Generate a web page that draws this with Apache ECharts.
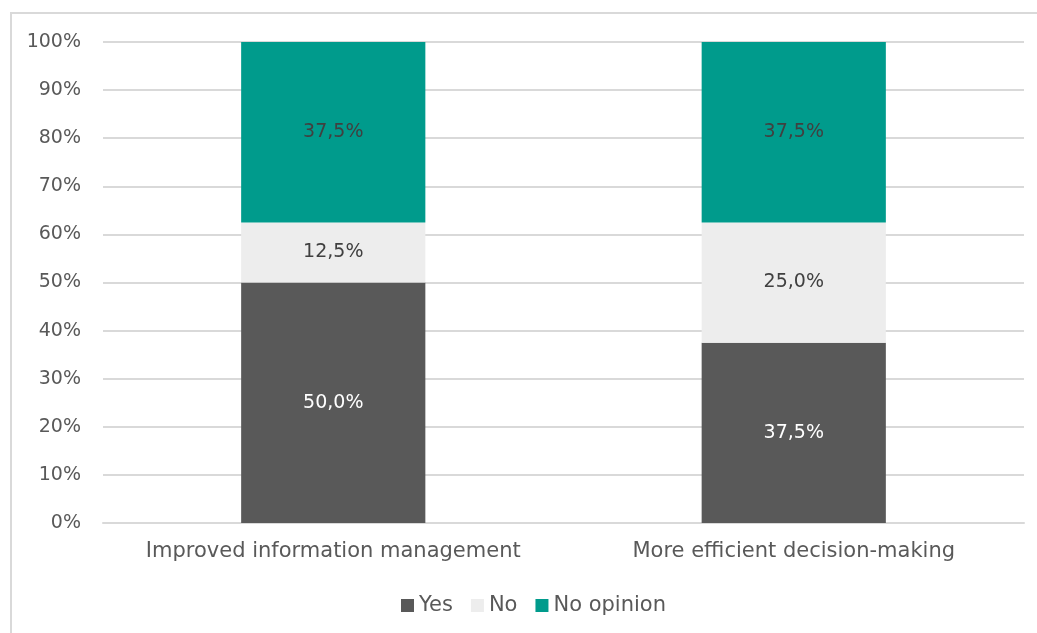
<!DOCTYPE html>
<html><head><meta charset="utf-8">
<script src="https://cdn.jsdelivr.net/npm/echarts@6/dist/echarts.min.js"></script>
<style>
html,body{margin:0;padding:0;background:#fff;overflow:hidden}
#frame{position:absolute;left:10px;top:12px;width:1040px;height:640px;border:2px solid #d9d9d9;box-sizing:border-box}
#c{position:absolute;left:0;top:0;width:1037px;height:633px}
</style></head>
<body><div id="frame"></div><div id="c"></div>
<script>
const categories = ["Improved information management", "More efficient decision-making"];
const seriesNames = ["Yes", "No", "No opinion"];
const yesValues = [50.0, 37.5];
const noValues = [12.5, 25.0];
const noOpinionValues = [37.5, 37.5];
const colors = ["#595959", "#ededed", "#009b8c"];
const labelColors = ["#ffffff", "#404040", "#404040"];
const FONT = "DejaVu Sans";
const chart = echarts.init(document.getElementById('c'));
const data = [yesValues, noValues, noOpinionValues];
chart.setOption({
  animation: false,
  textStyle: {fontFamily: FONT},
  grid: {left: 103, right: 13, top: 42, bottom: 110, containLabel: false},
  legend: {
    top: 590, left: 396, itemWidth: 13, itemHeight: 13, itemGap: 18,
    textStyle: {fontFamily: FONT, fontSize: 21, color: '#595959'},
    data: seriesNames.map((n, i) => ({name: n, icon: 'rect'}))
  },
  xAxis: {
    type: 'category', data: categories,
    axisLine: {lineStyle: {color: '#d9d9d9', width: 2}},
    axisTick: {show: false},
    axisLabel: {fontFamily: FONT, fontSize: 21, color: '#595959', margin: 18, interval: 0}
  },
  yAxis: {
    type: 'value', min: 0, max: 100, interval: 10,
    axisLine: {show: false}, axisTick: {show: false},
    axisLabel: {fontFamily: FONT, fontSize: 19, color: '#595959', margin: 22, formatter: v => v + '%'},
    splitLine: {lineStyle: {color: '#d9d9d9', width: 2}}
  },
  series: seriesNames.map((n, i) => ({
    name: n, type: 'bar', stack: 'total', barWidth: '40%',
    itemStyle: {color: colors[i]},
    label: {show: true, position: 'inside', fontFamily: FONT, fontSize: 19, color: labelColors[i],
      formatter: p => p.value.toFixed(1).replace('.', ',') + '%'},
    data: data[i]
  }))
});
</script></body></html>
